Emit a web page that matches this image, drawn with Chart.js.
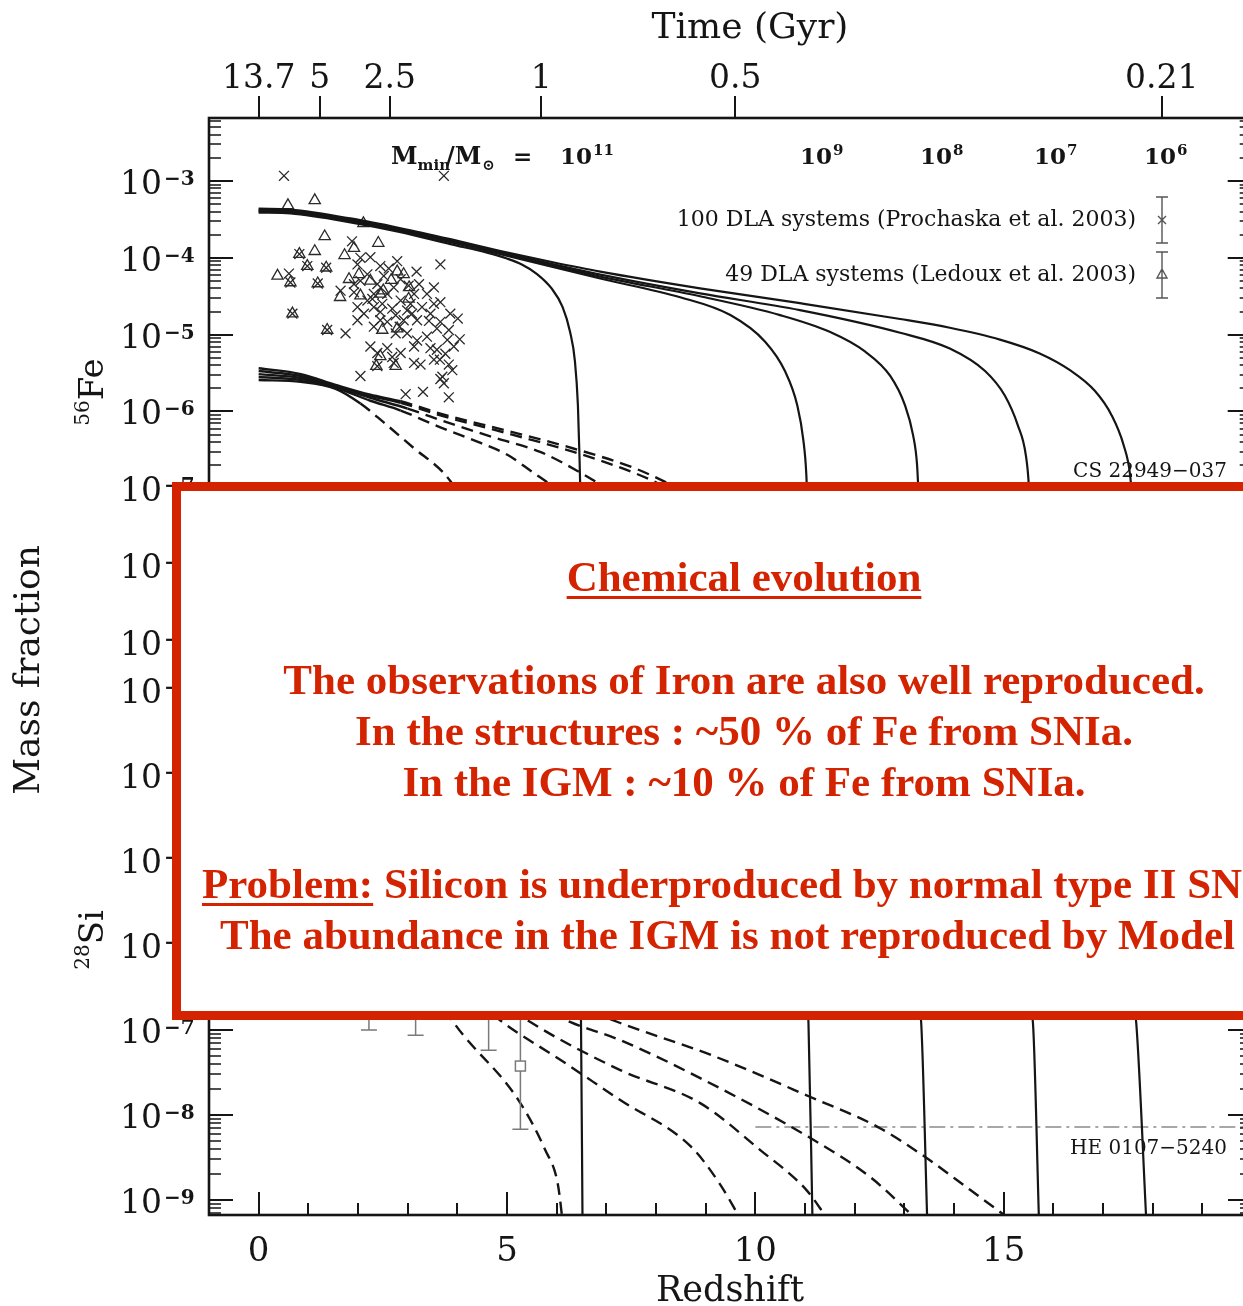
<!DOCTYPE html>
<html>
<head>
<meta charset="utf-8">
<title>Mass fraction vs redshift</title>
<script src="https://cdn.jsdelivr.net/npm/chart.js"></script>
<style>
  html, body { margin: 0; padding: 0; background: #fff; overflow: hidden; }
  body { position: relative; width: 1243px; height: 1306px; }
  canvas { position: absolute; left: 0; }
  #cFe { top: 0; }
  #cSi { top: 668px; }
  .ylab { position: absolute; font-family: "DejaVu Serif", serif; color: #151515; transform: rotate(-90deg);
          white-space: nowrap; text-align: center; }
  .ylab sup { font-size: 20px; vertical-align: 14px; }
  #note { position: absolute; left: 172px; top: 482px; width: 1200px; height: 538px; box-sizing: border-box;
          border: 9px solid #d42300; background: #fff; z-index: 2; }
  .line { position: absolute; font-family: "Liberation Serif", "Times New Roman", serif; font-weight: bold;
          font-size: 43px; line-height: 50px; color: #d42300; white-space: nowrap; z-index: 3; }
  .ctr { left: 144px; width: 1200px; text-align: center; }
  .ul { text-decoration: underline; text-decoration-thickness: 3px; text-underline-offset: 5px; }
</style>
</head>
<body>
<canvas id="cFe" width="1260" height="668"></canvas>
<canvas id="cSi" width="1260" height="638"></canvas>

<div class="ylab" style="left:-133px; top:648px; width:320px; height:44px; line-height:44px; font-size:36px;">Mass fraction</div>
<div class="ylab" style="left:32px; top:370px; width:100px; height:44px; line-height:44px; font-size:34px;"><sup>56</sup>Fe</div>
<div class="ylab" style="left:32px; top:918px; width:100px; height:44px; line-height:44px; font-size:34px;"><sup>28</sup>Si</div>

<div id="note"></div>
<div class="line ctr" style="top:552px;"><span class="ul">Chemical evolution</span></div>
<div class="line ctr" style="top:655px;">The observations of Iron are also well reproduced.</div>
<div class="line ctr" style="top:706px;">In the structures : ~50 % of Fe from SNIa.</div>
<div class="line ctr" style="top:757px;">In the IGM : ~10 % of Fe from SNIa.</div>
<div class="line" style="left:202px; top:859px;"><span class="ul">Problem:</span> Silicon is underproduced by normal type II SNa</div>
<div class="line" style="left:220px; top:910px;">The abundance in the IGM is not reproduced by Model</div>

<script>
  const SERIF = '"DejaVu Serif", serif';
  const INK = '#151515';

  // top axis: cosmic time (Gyr) placed at the matching redshift
  const timeTickZ = [0, 1.23, 2.64, 5.69, 9.6, 18.19];
  const timeTickLabels = ['13.7', '5', '2.5', '1', '0.5', '0.21'];
  const redshiftLabels = [0, 5, 10, 15];
  const mminExp = ['11', '9', '8', '7', '6'];

  // Fe in structures, one curve per minimum halo mass [z, mass fraction]
  const feStruct11 = [[0,3.89e-4],[0.64,3.78e-4],[1.85,2.90e-4],[2.86,2.16e-4],[3.86,1.51e-4],[4.6,1.17e-4],[5.0,9.8e-5],[5.3,8.2e-5],[5.6,6.2e-5],[5.9,4.0e-5],[6.12,2.3e-5],[6.27,1.1e-5],[6.37,4.5e-6],[6.43,1.2e-6],[6.46,2.8e-7],[6.48,8.4e-8],[6.5,1.4e-8]];
  const feStruct9 = [[0,4.0e-4],[0.64,3.89e-4],[1.85,2.98e-4],[2.86,2.22e-4],[3.86,1.60e-4],[4.87,1.12e-4],[6.88,5.38e-5],[8.49,3.07e-5],[9.5,1.80e-5],[10.2,8.1e-6],[10.6,3.36e-6],[10.85,1.19e-6],[10.97,4.25e-7],[11.03,1.51e-7],[11.07,2.6e-8]];
  const feStruct8 = [[0,4.12e-4],[0.64,4.0e-4],[1.85,3.07e-4],[2.86,2.29e-4],[3.86,1.65e-4],[4.87,1.16e-4],[6.88,5.71e-5],[8.89,3.16e-5],[10.5,1.80e-5],[11.5,1.09e-5],[12.21,6.05e-6],[12.72,2.90e-6],[13.02,1.19e-6],[13.18,4.92e-7],[13.26,2.03e-7],[13.3,6.2e-8]];
  const feStruct7 = [[0,4.25e-4],[0.64,4.12e-4],[1.85,3.16e-4],[2.86,2.35e-4],[3.86,1.70e-4],[4.87,1.19e-4],[6.88,6.05e-5],[8.89,3.45e-5],[10.9,2.09e-5],[12.92,1.06e-5],[13.92,6.6e-6],[14.63,3.36e-6],[15.03,1.60e-6],[15.29,6.6e-7],[15.45,2.73e-7],[15.51,1.12e-7],[15.55,2.6e-8]];
  const feStruct6 = [[0,4.38e-4],[0.64,4.25e-4],[1.85,3.26e-4],[2.86,2.43e-4],[3.86,1.75e-4],[4.87,1.23e-4],[5.88,8.9e-5],[6.88,6.62e-5],[8.89,4.01e-5],[10.9,2.57e-5],[12.92,1.60e-5],[13.92,1.23e-5],[14.93,8.63e-6],[15.73,5.7e-6],[16.34,3.45e-6],[16.84,1.86e-6],[17.18,8.9e-7],[17.42,3.66e-7],[17.55,1.51e-7],[17.63,3.45e-8]];

  // Fe in the IGM
  const feIgm11 = [[0,2.57e-6],[0.85,2.43e-6],[1.55,1.97e-6],[2.05,1.27e-6],[2.52,7.2e-7],[3.12,3.36e-7],[3.72,1.6e-7],[4.06,8.4e-8],[5.0,1.5e-8],[5.8,2e-9],[6.1,5e-10]];
  const feIgm9 = [[0,2.81e-6],[0.85,2.57e-6],[1.55,2.03e-6],[2.25,1.38e-6],[2.86,1.03e-6],[3.66,6.2e-7],[4.47,3.9e-7],[5.01,2.73e-7],[5.53,1.6e-7],[5.88,1.12e-7],[7.3,2.5e-8],[8.7,4e-9],[9.6,6e-10]];
  const feIgm8 = [[0,3.07e-6],[0.85,2.73e-6],[1.55,2.09e-6],[2.25,1.51e-6],[3.0,1.09e-6],[3.8,7.2e-7],[4.73,4.6e-7],[5.67,2.98e-7],[6.48,1.6e-7],[6.88,1.12e-7],[8.9,2e-8],[10.5,4e-9],[11.4,6e-10]];
  const feIgm7 = [[0,3.36e-6],[0.85,2.9e-6],[1.55,2.15e-6],[2.25,1.6e-6],[2.86,1.3e-6],[3.66,8.9e-7],[5.01,5.2e-7],[6.34,2.98e-7],[7.55,1.6e-7],[8.09,1.12e-7],[10.5,1.5e-8],[12.3,3e-9],[13.2,6e-10]];
  const feIgm6 = [[0,3.66e-6],[0.85,3.07e-6],[1.55,2.22e-6],[2.25,1.65e-6],[2.86,1.36e-6],[3.66,9.4e-7],[5.01,5.6e-7],[6.34,3.3e-7],[7.55,1.85e-7],[8.3,1.12e-7],[11,1.5e-8],[14.2,2.5e-9],[15.1,6e-10]];

  // Si in structures
  const siStruct11 = [[0,3.2e-4],[1,3.0e-4],[2,2.4e-4],[3,1.8e-4],[4,1.3e-4],[5,9e-5],[5.8,5.5e-5],[6.15,2.5e-5],[6.35,4e-6],[6.45,6e-7],[6.49,1.2e-7],[6.52,6e-10]];
  const siStruct9 = [[0,3.3e-4],[1,3.1e-4],[2,2.5e-4],[4,1.4e-4],[6,8e-5],[8,4.6e-5],[9.5,2.8e-5],[10.3,1.2e-5],[10.75,2.5e-6],[10.98,4e-7],[11.07,1.2e-7],[11.15,6e-10]];
  const siStruct8 = [[0,3.4e-4],[1,3.2e-4],[2,2.6e-4],[4,1.45e-4],[6,8.5e-5],[8,5e-5],[10,2.8e-5],[11.5,1.5e-5],[12.5,5e-6],[13.05,9e-7],[13.25,2.5e-7],[13.34,1.2e-7],[13.46,6e-10]];
  const siStruct7 = [[0,3.5e-4],[1,3.3e-4],[2,2.7e-4],[4,1.5e-4],[6,9e-5],[8,5.4e-5],[10,3.2e-5],[13,1.2e-5],[14.5,4.5e-6],[15.2,1.1e-6],[15.45,3e-7],[15.59,1.2e-7],[15.71,6e-10]];
  const siStruct6 = [[0,3.6e-4],[1,3.4e-4],[2,2.8e-4],[4,1.55e-4],[6,9.5e-5],[8,5.8e-5],[10,3.6e-5],[13,1.9e-5],[15,1.1e-5],[16.5,4.5e-6],[17.3,1e-6],[17.55,3e-7],[17.67,1.2e-7],[17.87,6e-10]];

  // Si in the IGM
  const siIgm11 = [[0,5e-6],[1,4.5e-6],[2,2.5e-6],[3,8e-7],[3.5,3e-7],[3.96,1.15e-7],[5.23,1.5e-8],[5.77,3.87e-9],[6.02,1.58e-9],[6.1,7.0e-10],[6.14,4e-10]];
  const siIgm9 = [[0,5.5e-6],[1,5e-6],[2,3.2e-6],[3,1.2e-6],[4,3.5e-7],[4.91,1.24e-7],[6.08,4.44e-8],[7.28,1.5e-8],[8.71,4.21e-9],[9.3,1.5e-9],[9.68,6.3e-10]];
  const siIgm8 = [[0,6e-6],[1,5.3e-6],[2,3.6e-6],[3,1.6e-6],[4,5e-7],[5.47,1.24e-7],[7.28,3.38e-8],[8.89,1.38e-8],[10.1,3.87e-9],[11.03,1.31e-9],[11.43,6.3e-10]];
  const siIgm7 = [[0,6.5e-6],[1,5.6e-6],[2,3.9e-6],[3,1.9e-6],[4,7e-7],[5,3e-7],[6.28,1.24e-7],[7.28,7.6e-8],[8.89,2.72e-8],[11.11,5.36e-9],[12.31,1.87e-9],[13.2,6.3e-10]];
  const siIgm6 = [[0,7e-6],[1,6e-6],[2,4.2e-6],[3,2.2e-6],[4,9e-7],[5.5,3.2e-7],[7.28,1.21e-7],[9.11,5.08e-8],[11.11,1.63e-8],[12.47,7.22e-9],[13.42,3.21e-9],[14.33,1.31e-9],[15.07,6.3e-10]];

  // DLA iron abundances
  const dlaProchaskaZ = [0.51,3.73,0.61,1.88,2.25,2.79,3.18,3.66,1.65,1.92,2.19,2.45,2.62,1.99,2.39,2.59,2.86,3.23,3.39,3.66,2.12,2.32,2.49,2.69,2.99,3.19,3.46,3.66,3.86,4.01,3.83,4.05,1.75,2.25,2.59,2.86,3.13,3.26,3.59,3.76,3.65,3.83,3.90,2.05,2.39,2.72,3.70,3.73,2.96,3.31,3.83,1.99,2.05,2.32,2.45,2.76,2.92,3.06,3.29,3.53,3.43,3.59,3.80,3.93,3.39,3.19,2.76,2.99,2.45,2.19,1.99,1.92,3.02,2.72,3.53,2.86,2.52,3.13,2.29,2.05,2.32,2.59,2.84,3.09,2.39,2.69,3.46,3.53,3.13,3.66,0.82,0.98,1.36,0.64,1.19,0.68,1.38];
  const dlaProchaskaFe = [1.17e-3,1.17e-3,6.24e-5,1.64e-4,1.02e-4,9.06e-5,6.62e-5,8.22e-5,3.74e-5,3.56e-5,6.11e-5,7.82e-5,7.29e-5,2.29e-5,4.55e-5,3.39e-5,2.78e-5,4.55e-5,3.39e-5,2.65e-5,1.88e-5,2.29e-5,2.52e-5,2.18e-5,2.07e-5,1.54e-5,1.88e-5,1.47e-5,1.88e-5,1.62e-5,1.15e-5,8.71e-6,1.04e-5,7.02e-6,6.68e-6,5.77e-6,4.29e-6,4.08e-6,6.36e-6,5.65e-6,4.73e-6,4.08e-6,3.45e-6,2.9e-6,3.89e-6,4.29e-6,2.84e-6,2.33e-6,1.68e-6,1.80e-6,1.53e-6,8.22e-5,1.0e-4,3.39e-5,1.54e-5,1.79e-5,1.54e-5,2.52e-5,2.29e-5,2.52e-5,1.51e-5,1.2e-5,8.55e-6,7.02e-6,9.42e-6,8.37e-6,1.04e-5,1.04e-5,1.97e-5,2.78e-5,1.54e-5,4.55e-5,4.34e-5,4.12e-5,4.12e-5,5.27e-5,5.82e-5,3.39e-5,2.92e-5,5.02e-5,1.27e-5,1.47e-5,1.27e-5,1.88e-5,5.77e-6,5.12e-6,6.68e-6,4.73e-6,7.02e-6,2.65e-6,1.12e-4,7.82e-5,7.44e-5,4.78e-5,4.64e-5,1.88e-5,1.15e-5];
  const dlaLedouxZ = [0.59,1.13,2.11,1.33,1.13,2.41,1.73,0.82,0.98,1.36,0.38,0.64,1.19,1.64,1.82,2.05,2.51,2.67,2.79,3.03,0.68,1.38,2.49,2.79,2.45,2.37,1.92,2.02,2.76,2.92,3.02,2.25,2.45];
  const dlaLedouxFe = [4.83e-4,5.6e-4,2.81e-4,1.90e-4,1.22e-4,1.56e-4,1.08e-4,1.12e-4,7.82e-5,7.44e-5,5.82e-5,4.78e-5,4.64e-5,3.07e-5,5.27e-5,3.23e-5,3.74e-5,5.12e-5,6.62e-5,4.12e-5,1.88e-5,1.15e-5,1.15e-5,1.2e-5,5.22e-6,3.89e-6,1.34e-4,6.11e-5,3.89e-6,6.11e-5,2.92e-5,5.02e-5,3.39e-5];

  // Si IGM measurements with error bars
  const siObsZ = [2.22, 3.16, 4.63, 5.27];
  const siObs = [4.0e-7, 3.5e-7, 2.6e-7, 3.77e-8];
  const siObsLo = [1.0e-7, 8.7e-8, 5.8e-8, 6.8e-9];
  const siObsHi = [1.5e-6, 1.3e-6, 1.0e-6, 1.6e-7];

  // HE 0107-5240 level
  const heLevelZ = [10, 20];
  const heLevel = 7.22e-9;

  // dashFrom: redshift where an IGM curve switches from solid to dashed
  const curve = (pts, dashFrom) => ({
    data: pts.map(p => ({ x: p[0], y: p[1] })),
    borderColor: INK, borderWidth: dashFrom ? 2.4 : 2.2, pointRadius: 0,
    cubicInterpolationMode: 'monotone', fill: false,
    segment: dashFrom ? { borderDash: c => c.p0.parsed.x >= dashFrom ? [12, 7] : undefined } : undefined
  });
  const marks = (zs, vs, style, r) => ({
    data: zs.map((z, i) => ({ x: z, y: vs[i] })), showLine: false,
    pointStyle: style, pointRadius: r, pointBorderWidth: 1.3,
    pointBorderColor: '#2a2a2a', pointBackgroundColor: 'rgba(0,0,0,0)', borderColor: '#2a2a2a'
  });

  function frameAndTicks(chart, bottomTicks) {
    const ctx = chart.ctx, a = chart.chartArea, x = chart.scales.x, y = chart.scales.y;
    ctx.save();
    ctx.strokeStyle = INK;
    const lo = Math.floor(Math.log10(y.min)), hi = Math.ceil(Math.log10(y.max));
    for (let e = lo; e < hi; e++) {
      for (let m = 1; m < 10; m++) {
        const v = m * Math.pow(10, e);
        if (v < y.min || v > y.max) continue;
        const py = Math.round(y.getPixelForValue(v));
        const len = m === 1 ? 24 : 12;
        ctx.lineWidth = m === 1 ? 2 : 1.6;
        ctx.beginPath();
        ctx.moveTo(a.left, py); ctx.lineTo(a.left + len, py);
        ctx.moveTo(a.right, py); ctx.lineTo(a.right - len, py);
        ctx.stroke();
      }
    }
    if (bottomTicks) {
      ctx.lineWidth = 2;
      ctx.beginPath();
      for (let z = Math.ceil(x.min); z <= x.max; z++) {
        const px = Math.round(x.getPixelForValue(z));
        const len = z % 5 === 0 ? 23 : 12;
        ctx.moveTo(px, a.bottom); ctx.lineTo(px, a.bottom - len);
      }
      ctx.stroke();
    }
    ctx.lineWidth = 2.6;
    ctx.strokeRect(a.left, a.top, a.right - a.left, a.bottom - a.top);
    ctx.restore();
  }

  function decadeLabels(chart) {
    const ctx = chart.ctx, y = chart.scales.y;
    ctx.save();
    ctx.fillStyle = INK;
    for (let e = Math.ceil(Math.log10(y.min)); e <= Math.floor(Math.log10(y.max)); e++) {
      const py = y.getPixelForValue(Math.pow(10, e));
      ctx.font = '33px ' + SERIF;
      ctx.textAlign = 'right'; ctx.textBaseline = 'alphabetic';
      ctx.fillText('10', 162, py + 13);
      ctx.font = 'bold 20px ' + SERIF;
      ctx.textAlign = 'left';
      ctx.fillText('\u2212' + (-e), 164, py + 4);
    }
    ctx.restore();
  }

  function tenPow(ctx, x, base, exp) {
    ctx.font = 'bold 23px ' + SERIF;
    ctx.fillText('10', x, base);
    const w = ctx.measureText('10').width;
    ctx.font = 'bold 15px ' + SERIF;
    ctx.fillText(exp, x + w + 1, base - 9);
  }

  function errSymbol(ctx, x, y0, y1, kind) {
    const yc = (y0 + y1) / 2;
    ctx.beginPath();
    ctx.moveTo(x, y0); ctx.lineTo(x, y1);
    ctx.moveTo(x - 6, y0); ctx.lineTo(x + 6, y0);
    ctx.moveTo(x - 6, y1); ctx.lineTo(x + 6, y1);
    if (kind === 'cross') {
      ctx.moveTo(x - 4, yc - 4); ctx.lineTo(x + 4, yc + 4);
      ctx.moveTo(x + 4, yc - 4); ctx.lineTo(x - 4, yc + 4);
    } else {
      ctx.moveTo(x, yc - 6); ctx.lineTo(x + 5, yc + 3); ctx.lineTo(x - 5, yc + 3); ctx.closePath();
    }
    ctx.stroke();
  }

  const feDecor = {
    id: 'feDecor',
    afterDraw(chart) {
      const ctx = chart.ctx, a = chart.chartArea, x = chart.scales.x;
      frameAndTicks(chart, false);
      decadeLabels(chart);
      ctx.save();
      ctx.fillStyle = INK; ctx.strokeStyle = INK;

      // time axis on top
      ctx.lineWidth = 2;
      ctx.beginPath();
      timeTickZ.forEach(z => {
        const px = Math.round(x.getPixelForValue(z));
        ctx.moveTo(px, a.top); ctx.lineTo(px, a.top - 22);
      });
      ctx.stroke();
      ctx.font = '33px ' + SERIF;
      ctx.textAlign = 'center'; ctx.textBaseline = 'alphabetic';
      timeTickZ.forEach((z, i) => ctx.fillText(timeTickLabels[i], x.getPixelForValue(z), a.top - 30));
      ctx.font = '36px ' + SERIF;
      ctx.fillText('Time (Gyr)', 750, a.top - 80);

      // minimum halo mass labels
      ctx.textAlign = 'left';
      let px = 391;
      const base = 164;
      ctx.font = 'bold 24px ' + SERIF;
      ctx.fillText('M', px, base); px += ctx.measureText('M').width;
      ctx.font = 'bold 15px ' + SERIF;
      ctx.fillText('min', px, base + 6); px += ctx.measureText('min').width - 4;
      ctx.font = 'bold 24px ' + SERIF;
      ctx.fillText('/', px, base); px += ctx.measureText('/').width;
      ctx.fillText('M', px, base); px += ctx.measureText('M').width;
      ctx.font = 'bold 15px ' + SERIF;
      ctx.fillText('\u2299', px + 1, base + 6);
      ctx.font = 'bold 23px ' + SERIF;
      ctx.fillText('=', 513, base);
      [560, 800, 920, 1034, 1144].forEach((lx, i) => tenPow(ctx, lx, base, mminExp[i]));

      // legend
      ctx.font = '22px ' + SERIF;
      ctx.textAlign = 'right'; ctx.textBaseline = 'middle';
      ctx.fillText('100 DLA systems (Prochaska et al. 2003)', 1136, 220);
      ctx.fillText('49 DLA systems (Ledoux et al. 2003)', 1136, 275);
      ctx.strokeStyle = '#555'; ctx.lineWidth = 1.4;
      errSymbol(ctx, 1162, 197, 243, 'cross');
      errSymbol(ctx, 1162, 252, 298, 'tri');

      ctx.font = '20px ' + SERIF;
      ctx.textBaseline = 'alphabetic';
      ctx.fillText('CS 22949\u2212037', 1227, 477);
      ctx.restore();
    }
  };

  const siDecor = {
    id: 'siDecor',
    afterDatasetsDraw(chart) {
      const ctx = chart.ctx, x = chart.scales.x, y = chart.scales.y;
      ctx.save();
      ctx.strokeStyle = '#7a7a7a'; ctx.lineWidth = 1.5;
      siObsZ.forEach((z, i) => {
        const px = x.getPixelForValue(z);
        const yl = y.getPixelForValue(siObsLo[i]), yh = y.getPixelForValue(siObsHi[i]);
        const yc = y.getPixelForValue(siObs[i]);
        ctx.beginPath();
        ctx.moveTo(px, yh); ctx.lineTo(px, yc - 5);
        ctx.moveTo(px, yc + 5); ctx.lineTo(px, yl);
        ctx.moveTo(px - 8, yl); ctx.lineTo(px + 8, yl);
        ctx.moveTo(px - 8, yh); ctx.lineTo(px + 8, yh);
        ctx.stroke();
        ctx.strokeRect(px - 5, yc - 5, 10, 10);
      });
      ctx.restore();
    },
    afterDraw(chart) {
      const ctx = chart.ctx, a = chart.chartArea, x = chart.scales.x;
      frameAndTicks(chart, true);
      decadeLabels(chart);
      ctx.save();
      ctx.fillStyle = INK;
      ctx.font = '34px ' + SERIF;
      ctx.textAlign = 'center'; ctx.textBaseline = 'alphabetic';
      redshiftLabels.forEach(z => ctx.fillText(String(z), x.getPixelForValue(z), a.bottom + 46));
      ctx.font = '35px ' + SERIF;
      ctx.fillText('Redshift', 730, a.bottom + 86);
      ctx.font = '20px ' + SERIF;
      ctx.textAlign = 'right';
      ctx.fillText('HE 0107\u22125240', 1227, a.bottom - 61);
      ctx.restore();
    }
  };

  function panel(id, yMin, yMax, padTop, padBottom, datasets, decor) {
    return new Chart(document.getElementById(id), {
      type: 'line',
      data: { datasets },
      options: {
        responsive: false, animation: false, events: [],
        layout: { padding: { left: 209, right: 8, top: padTop, bottom: padBottom } },
        scales: {
          x: { type: 'linear', min: -1, max: 20, display: false },
          y: { type: 'logarithmic', min: yMin, max: yMax, display: false }
        },
        plugins: { legend: { display: false }, tooltip: { enabled: false } }
      },
      plugins: [decor]
    });
  }

  panel('cFe', 5.87e-10, 6.62e-3, 118, 0, [
    curve(feStruct11), curve(feStruct9), curve(feStruct8), curve(feStruct7), curve(feStruct6),
    curve(feIgm11, 1.9), curve(feIgm9, 2.6), curve(feIgm8, 2.6), curve(feIgm7, 2.6), curve(feIgm6, 2.6),
    marks(dlaProchaskaZ, dlaProchaskaFe, 'crossRot', 7),
    marks(dlaLedouxZ, dlaLedouxFe, 'triangle', 6.5)
  ], feDecor);

  panel('cSi', 6.67e-10, 1.815e-3, 0, 91, [
    curve(siStruct11), curve(siStruct9), curve(siStruct8), curve(siStruct7), curve(siStruct6),
    curve(siIgm11, 1.9), curve(siIgm9, 2.6), curve(siIgm8, 2.6), curve(siIgm7, 2.6), curve(siIgm6, 2.6),
    {
      data: heLevelZ.map(z => ({ x: z, y: heLevel })), borderColor: '#8a8a8a', borderWidth: 1.6,
      borderDash: [16, 5, 3, 5], pointRadius: 0
    }
  ], siDecor);
</script>
</body>
</html>
